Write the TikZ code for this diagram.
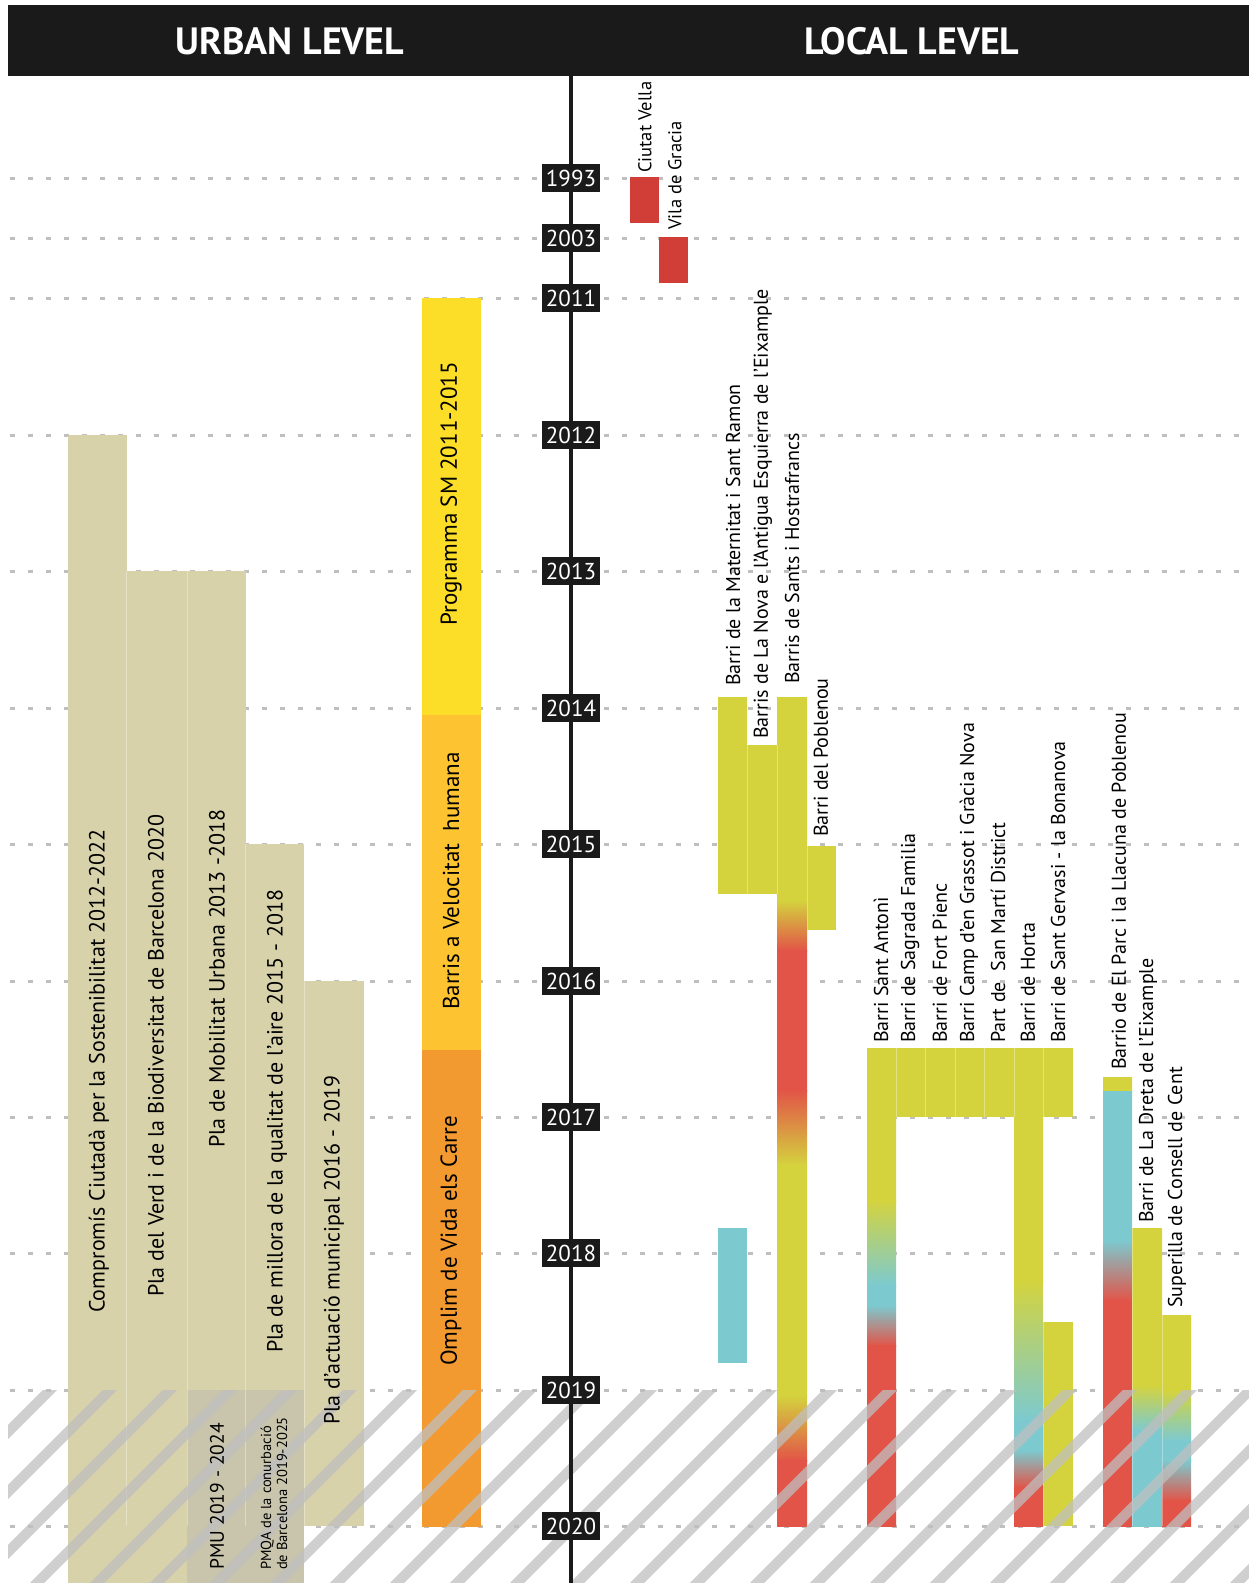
\documentclass[tikz,border=0pt]{standalone}
\usepackage{fontspec}
\setmainfont{PT Sans}
\definecolor{khaki}{HTML}{D8D2AA}
\definecolor{khakigrey}{HTML}{C9C5AC}
\definecolor{smyellow}{HTML}{FCDD28}
\definecolor{amber}{HTML}{FDC330}
\definecolor{omplim}{HTML}{F29A30}
\definecolor{lime}{HTML}{D4D33E}
\definecolor{sred}{HTML}{E25448}
\definecolor{oldred}{HTML}{D03E37}
\definecolor{scyan}{HTML}{7CCAD0}
\definecolor{header}{HTML}{1A1A1A}
\begin{document}
\begin{tikzpicture}[x=1pt, y=-1pt, line join=round]
	\tikzset{yearbox/.style={fill=header, text=white, font=\fontsize{23}{23}\selectfont, minimum width=58pt, minimum height=28pt, inner sep=1pt},
		urbtext/.style={rotate=90, anchor=west, inner sep=0pt, font=\fontsize{22}{22}\selectfont},
		midtext/.style={urbtext, font=\fontsize{23}{23}\selectfont},
		loctext/.style={urbtext, font=\fontsize{20}{20}\selectfont},
		dashline/.style={black!25, line width=3pt, dash pattern=on 5pt off 13pt},
		seam/.style={white, opacity=0.35, line width=1pt},
		hatch/.style={black!25, opacity=0.75, line width=10pt}}
	\fill[white] (0,0) rectangle (1249,1583);
	\useasboundingbox (0,0) rectangle (1249,1583);
	\def\tlx{571}
	\foreach \yy in {178,238,298,435,571,708,844,981,1117,1253,1390,1526}
		\draw[dashline] (10,\yy) -- (1249,\yy);
	% urban level
	\fill[khaki] (68,435) rectangle (126.5,1583);
	\fill[khaki] (126.5,571) rectangle (245.5,1583);
	\fill[khaki] (245.5,844) rectangle (304,1390);
	\fill[khaki] (304,981) rectangle (364,1526);
	\fill[khakigrey] (187,1390) rectangle (304,1583);
	\foreach \sx/\sy in {126.5/571,187/571,245.5/844,304/981}
		\draw[seam] (\sx,\sy) -- (\sx,1526);
	\fill[smyellow] (422,298) rectangle (481,715);
	\fill[amber] (422,715) rectangle (481,1050);
	\fill[omplim] (422,1050) rectangle (481,1527);
	% local level
	\fill[oldred] (630,177) rectangle (659,223);
	\fill[oldred] (659,237) rectangle (688,283);
	\fill[lime] (718,697) rectangle (747,894);
	\fill[lime] (747,745) rectangle (777,894);
	\fill[lime] (807,846) rectangle (836,930);
	\fill[scyan] (718,1228) rectangle (747,1363);
	\fill[lime] (896,1048) rectangle (1073,1117);
	\fill[lime] (1043,1322) rectangle (1073,1526);
	\foreach \ya/\yb/\ca/\cb in {697/901/lime/lime, 900/951/lime/sred, 950/1091/sred/sred, 1090/1166/sred/lime, 1165/1396/lime/lime, 1395/1461/lime/sred, 1460/1526/sred/sred}
		\shade[top color=\ca, bottom color=\cb] (777,\ya) rectangle (807,\yb);
	\foreach \ya/\yb/\ca/\cb in {1048/1201/lime/lime, 1200/1286/lime/scyan, 1285/1306/scyan/scyan, 1305/1346/scyan/sred, 1345/1526/sred/sred}
		\shade[top color=\ca, bottom color=\cb] (867,\ya) rectangle (896,\yb);
	\foreach \ya/\yb/\ca/\cb in {1048/1281/lime/lime, 1280/1421/lime/scyan, 1420/1451/scyan/scyan, 1450/1488/scyan/sred, 1487/1526/sred/sred}
		\shade[top color=\ca, bottom color=\cb] (1014,\ya) rectangle (1043,\yb);
	\foreach \ya/\yb/\ca/\cb in {1077/1092/lime/lime, 1091/1241/scyan/scyan, 1240/1301/scyan/sred, 1300/1526/sred/sred}
		\shade[top color=\ca, bottom color=\cb] (1103,\ya) rectangle (1132,\yb);
	\foreach \ya/\yb/\ca/\cb in {1228/1386/lime/lime, 1385/1431/lime/scyan, 1430/1526/scyan/scyan}
		\shade[top color=\ca, bottom color=\cb] (1132,\ya) rectangle (1162,\yb);
	\foreach \ya/\yb/\ca/\cb in {1315/1391/lime/lime, 1390/1441/lime/scyan, 1440/1461/scyan/scyan, 1460/1501/scyan/sred, 1500/1526/sred/sred}
		\shade[top color=\ca, bottom color=\cb] (1162,\ya) rectangle (1191,\yb);
	\foreach \sx/\sa/\sb in {747/697/894,777/745/894,807/846/930,896/1048/1117,925/1048/1117,955/1048/1117,984/1048/1117,1014/1048/1117,1043/1048/1117,1043/1322/1526,1132/1228/1526,1162/1315/1526}
		\draw[seam] (\sx,\sa) -- (\sx,\sb);
	% after 2019
	\begin{scope}
		\clip (8,1390) rectangle (1249,1583);
		\foreach \k in {-1,...,24}
			\draw[hatch] (60+60*\k,1380) -- ++(-220,220);
	\end{scope}
	\coordinate (tltop) at (\tlx,76);
	\coordinate (tlbot) at (\tlx,1583);
	\draw[header, line width=4.5pt] (tltop) -- (tlbot);
	\foreach \yy/\lab in {178/1993,238/2003,298/2011,435/2012,571/2013,708/2014,844/2015,981/2016,1117/2017,1253/2018,1390/2019,1526/2020}
		\node[yearbox] (yr\lab) at (\tlx,\yy) {\lab};
	\fill[header] (8,5) rectangle (1249,76);
	\node[text=white, font=\bfseries\fontsize{38}{38}\selectfont] (urban) at (290,41) {URBAN LEVEL};
	\node[text=white, font=\bfseries\fontsize{38}{38}\selectfont] (local) at (912,41) {LOCAL LEVEL};
	% labels
	\node[urbtext] (compromis) at (99,1313) {Compromís Ciutadà per la Sostenibilitat 2012-2022};
	\node[urbtext] (verd) at (156,1297) {Pla del Verd i de la Biodiversitat de Barcelona 2020};
	\node[urbtext] (mobilitat) at (217,1148) {Pla de Mobilitat Urbana 2013 -2018};
	\node[urbtext] (aire) at (277,1353) {Pla de millora de la qualitat de l’aire 2015 - 2018};
	\node[urbtext] (actuacio) at (334,1425) {Pla d’actuació municipal 2016 - 2019};
	\node[urbtext, font=\fontsize{19.5}{19.5}\selectfont] (pmu) at (217,1570) {PMU 2019 - 2024};
	\node[urbtext, align=left, font=\fontsize{14.5}{16}\selectfont] (pmqa) at (274,1570) {PMQA de la conurbació\\de Barcelona 2019-2025};
	\node[midtext] (programma) at (451,626) {Programma SM 2011-2015};
	\node[midtext] (velocitat) at (451,1010) {Barris a Velocitat\ \ humana};
	\node[midtext] (omplim) at (451,1366) {Omplim de Vida els Carre};
	\node[loctext, font=\fontsize{18.5}{18.5}\selectfont] (ciutat) at (645,173) {Ciutat Vella};
	\node[loctext, font=\fontsize{18.5}{18.5}\selectfont] (gracia) at (675,230) {Vila de Gracia};
	\node[loctext] (maternitat) at (733,686) {Barri de la Maternitat i Sant Ramon};
	\node[loctext] (nova) at (763,739) {Barris de La Nova e l’Antigua Esquierra de l’Eixample};
	\node[loctext] (sants) at (792,684) {Barris de Sants i Hostrafrancs};
	\node[loctext] (poblenou) at (821,837) {Barri del Poblenou};
	\foreach \nx/\nm/\txt in {881/antoni/Barri Sant Antonì, 910/sagrada/Barri de Sagrada Familia, 940/pienc/Barri de Fort Pienc, 969/grassot/Barri Camp d’en Grassot i Gràcia Nova, 998/marti/Part de\ \ San Martí District, 1028/horta/Barri de Horta, 1058/gervasi/Barri de Sant Gervasi - la Bonanova}
		\node[loctext] (\nm) at (\nx,1043) {\txt};
	\node[loctext] (parc) at (1119,1070) {Barrio de El Parc i la Llacuna de Poblenou};
	\node[loctext] (dreta) at (1148,1223) {Barri de La Dreta de l’Eixample};
	\node[loctext] (superilla) at (1177,1308) {Superilla de Consell de Cent};
\end{tikzpicture}
\end{document}
